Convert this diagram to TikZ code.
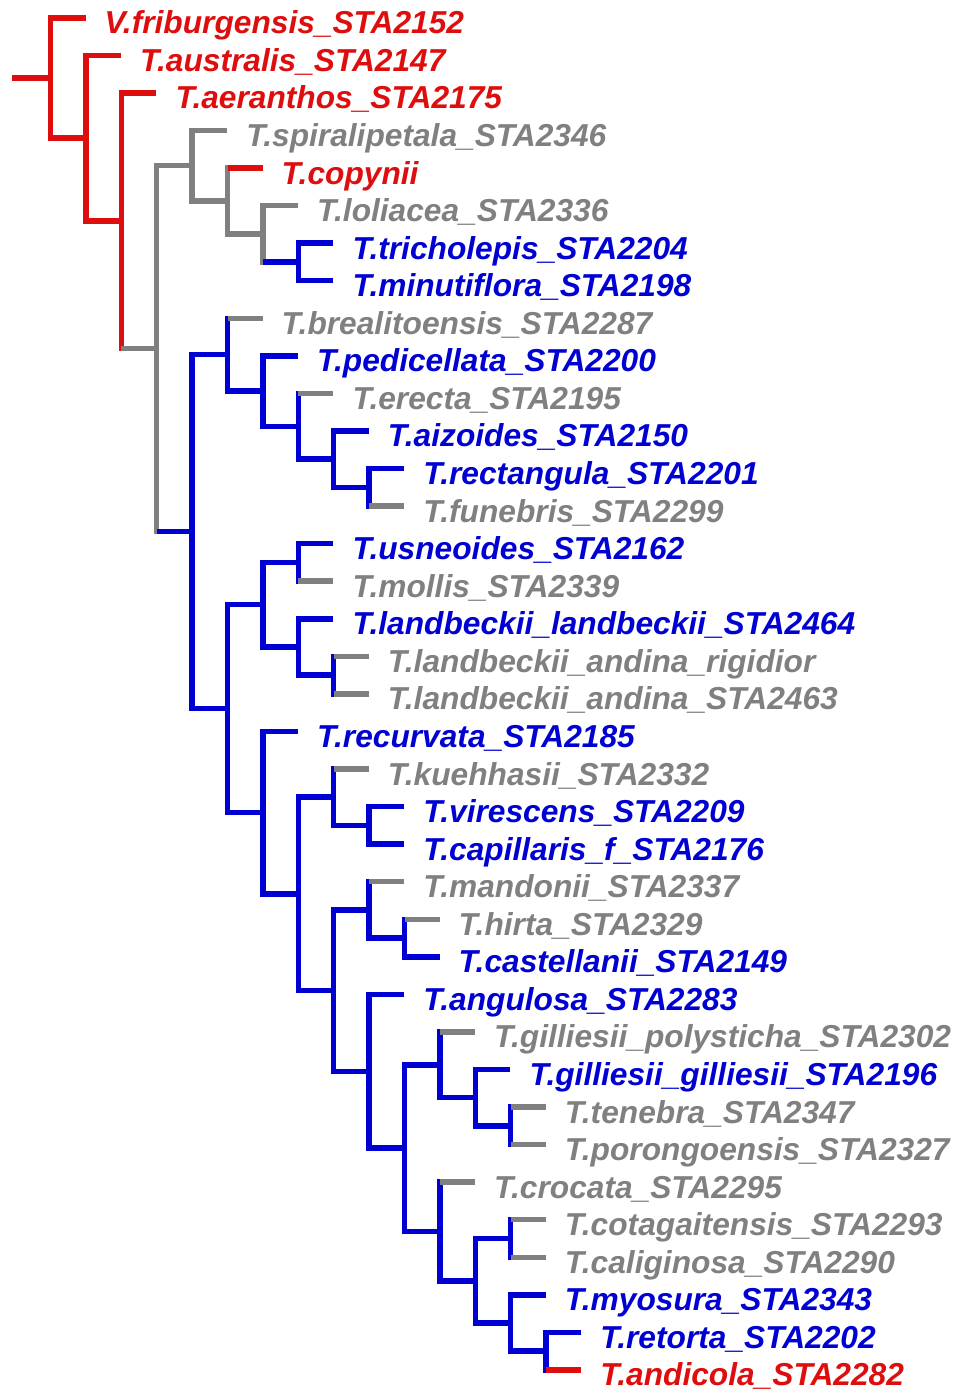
\documentclass[tikz,border=0pt]{standalone}
\usepackage{fontspec}
\setmainfont{Liberation Sans}
\definecolor{tred}{RGB}{222,14,14}
\definecolor{tblue}{RGB}{0,0,210}
\definecolor{tgray}{RGB}{128,128,128}
% vertical bar of a clade: node, colour, first child, last child
\newcommand\cladebar[4]{\draw[vbar,#2] (#1 |- #3) -- (#1 |- #4);}
% horizontal branch from a parent to a child, in the child's colour
\newcommand\branch[3]{\draw[hbar,#3] (#1 |- #2) -- (#2);}
% leaf label placed after the end of its branch
\newcommand\taxon[4]{\node[lab,text=#3] (t#1) at ([xshift=19pt,yshift=-16pt]#2) {#4};}
\begin{document}
\begin{tikzpicture}[x=1pt,y=-1pt,
  hbar/.style={line width=5.5pt},
  vbar/.style={line width=5.5pt,line cap=rect},
  lab/.style={anchor=base west,inner sep=0pt,font=\fontsize{31.7}{31.7}\selectfont\bfseries\itshape}]
\useasboundingbox (0,0) rectangle (954,1390);

% internal nodes
\coordinate (stub) at (12,77.94);
\coordinate (root) at (50.5,77.94);
\coordinate (nA) at (85.9,138.08);
\coordinate (nB) at (121.3,220.8);
\coordinate (nC) at (156.7,348.68);
\coordinate (nD) at (192.1,165.69);
\coordinate (nF) at (227.5,200.905);
\coordinate (nG) at (262.9,233.77);
\coordinate (nH) at (298.3,261.94);
\coordinate (nE) at (192.1,531.67);
\coordinate (nI) at (227.5,354.67);
\coordinate (nK) at (262.9,391.05);
\coordinate (nL) at (298.3,426.265);
\coordinate (nM) at (333.7,459.13);
\coordinate (nN) at (369.1,487.3);
\coordinate (nJ) at (227.5,708.66);
\coordinate (nO) at (262.9,604.675);
\coordinate (nQ) at (298.3,562.42);
\coordinate (nR) at (298.3,646.93);
\coordinate (nS) at (333.7,675.1);
\coordinate (nP) at (262.9,812.65);
\coordinate (nT) at (298.3,893.86);
\coordinate (nU) at (333.7,797.17);
\coordinate (nW) at (369.1,825.34);
\coordinate (nV) at (333.7,990.545);
\coordinate (nX) at (369.1,909.85);
\coordinate (nZ) at (404.5,938.02);
\coordinate (nY) at (369.1,1071.24);
\coordinate (nAA) at (404.5,1148.12);
\coordinate (nAB) at (439.9,1064.785);
\coordinate (nAD) at (475.3,1097.65);
\coordinate (nAE) at (510.7,1125.82);
\coordinate (nAC) at (439.9,1231.4575);
\coordinate (nAF) at (475.3,1280.755);
\coordinate (nAG) at (510.7,1238.5);
\coordinate (nAH) at (510.7,1323.01);
\coordinate (nAI) at (546.1,1351.18);

% branch tips
\coordinate (l0) at (85.5,17.8);
\coordinate (l1) at (120.9,55.36);
\coordinate (l2) at (156.3,92.92);
\coordinate (l3) at (227.1,130.48);
\coordinate (l4) at (262.5,168.04);
\coordinate (l5) at (297.9,205.6);
\coordinate (l6) at (333.3,243.16);
\coordinate (l7) at (333.3,280.72);
\coordinate (l8) at (262.5,318.28);
\coordinate (l9) at (297.9,355.84);
\coordinate (l10) at (333.3,393.4);
\coordinate (l11) at (368.7,430.96);
\coordinate (l12) at (404.1,468.52);
\coordinate (l13) at (404.1,506.08);
\coordinate (l14) at (333.3,543.64);
\coordinate (l15) at (333.3,581.2);
\coordinate (l16) at (333.3,618.76);
\coordinate (l17) at (368.7,656.32);
\coordinate (l18) at (368.7,693.88);
\coordinate (l19) at (297.9,731.44);
\coordinate (l20) at (368.7,769.0);
\coordinate (l21) at (404.1,806.56);
\coordinate (l22) at (404.1,844.12);
\coordinate (l23) at (404.1,881.68);
\coordinate (l24) at (439.5,919.24);
\coordinate (l25) at (439.5,956.8);
\coordinate (l26) at (404.1,994.36);
\coordinate (l27) at (474.9,1031.92);
\coordinate (l28) at (510.3,1069.48);
\coordinate (l29) at (545.7,1107.04);
\coordinate (l30) at (545.7,1144.6);
\coordinate (l31) at (474.9,1182.16);
\coordinate (l32) at (545.7,1219.72);
\coordinate (l33) at (545.7,1257.28);
\coordinate (l34) at (545.7,1294.84);
\coordinate (l35) at (581.1,1332.4);
\coordinate (l36) at (581.1,1369.96);

% vertical bars
\cladebar{root}{tred}{l0}{nA}
\cladebar{nA}{tred}{l1}{nB}
\cladebar{nB}{tred}{l2}{nC}
\cladebar{nC}{tgray}{nD}{nE}
\cladebar{nD}{tgray}{l3}{nF}
\cladebar{nF}{tgray}{l4}{nG}
\cladebar{nG}{tgray}{l5}{nH}
\cladebar{nH}{tblue}{l6}{l7}
\cladebar{nE}{tblue}{nI}{nJ}
\cladebar{nI}{tblue}{l8}{nK}
\cladebar{nK}{tblue}{l9}{nL}
\cladebar{nL}{tblue}{l10}{nM}
\cladebar{nM}{tblue}{l11}{nN}
\cladebar{nN}{tblue}{l12}{l13}
\cladebar{nJ}{tblue}{nO}{nP}
\cladebar{nO}{tblue}{nQ}{nR}
\cladebar{nQ}{tblue}{l14}{l15}
\cladebar{nR}{tblue}{l16}{nS}
\cladebar{nS}{tblue}{l17}{l18}
\cladebar{nP}{tblue}{l19}{nT}
\cladebar{nT}{tblue}{nU}{nV}
\cladebar{nU}{tblue}{l20}{nW}
\cladebar{nW}{tblue}{l21}{l22}
\cladebar{nV}{tblue}{nX}{nY}
\cladebar{nX}{tblue}{l23}{nZ}
\cladebar{nZ}{tblue}{l24}{l25}
\cladebar{nY}{tblue}{l26}{nAA}
\cladebar{nAA}{tblue}{nAB}{nAC}
\cladebar{nAB}{tblue}{l27}{nAD}
\cladebar{nAD}{tblue}{l28}{nAE}
\cladebar{nAE}{tblue}{l29}{l30}
\cladebar{nAC}{tblue}{l31}{nAF}
\cladebar{nAF}{tblue}{nAG}{nAH}
\cladebar{nAG}{tblue}{l32}{l33}
\cladebar{nAH}{tblue}{l34}{nAI}
\cladebar{nAI}{tblue}{l35}{l36}

% horizontal branches
\draw[hbar,tred] (stub) -- (root);
\branch{root}{l0}{tred}
\branch{root}{nA}{tred}
\branch{nA}{l1}{tred}
\branch{nA}{nB}{tred}
\branch{nB}{l2}{tred}
\branch{nB}{nC}{tgray}
\branch{nC}{nD}{tgray}
\branch{nC}{nE}{tblue}
\branch{nD}{l3}{tgray}
\branch{nD}{nF}{tgray}
\branch{nF}{l4}{tred}
\branch{nF}{nG}{tgray}
\branch{nG}{l5}{tgray}
\branch{nG}{nH}{tblue}
\branch{nH}{l6}{tblue}
\branch{nH}{l7}{tblue}
\branch{nE}{nI}{tblue}
\branch{nE}{nJ}{tblue}
\branch{nI}{l8}{tgray}
\branch{nI}{nK}{tblue}
\branch{nK}{l9}{tblue}
\branch{nK}{nL}{tblue}
\branch{nL}{l10}{tgray}
\branch{nL}{nM}{tblue}
\branch{nM}{l11}{tblue}
\branch{nM}{nN}{tblue}
\branch{nN}{l12}{tblue}
\branch{nN}{l13}{tgray}
\branch{nJ}{nO}{tblue}
\branch{nJ}{nP}{tblue}
\branch{nO}{nQ}{tblue}
\branch{nO}{nR}{tblue}
\branch{nQ}{l14}{tblue}
\branch{nQ}{l15}{tgray}
\branch{nR}{l16}{tblue}
\branch{nR}{nS}{tblue}
\branch{nS}{l17}{tgray}
\branch{nS}{l18}{tgray}
\branch{nP}{l19}{tblue}
\branch{nP}{nT}{tblue}
\branch{nT}{nU}{tblue}
\branch{nT}{nV}{tblue}
\branch{nU}{l20}{tgray}
\branch{nU}{nW}{tblue}
\branch{nW}{l21}{tblue}
\branch{nW}{l22}{tblue}
\branch{nV}{nX}{tblue}
\branch{nV}{nY}{tblue}
\branch{nX}{l23}{tgray}
\branch{nX}{nZ}{tblue}
\branch{nZ}{l24}{tgray}
\branch{nZ}{l25}{tblue}
\branch{nY}{l26}{tblue}
\branch{nY}{nAA}{tblue}
\branch{nAA}{nAB}{tblue}
\branch{nAA}{nAC}{tblue}
\branch{nAB}{l27}{tgray}
\branch{nAB}{nAD}{tblue}
\branch{nAD}{l28}{tblue}
\branch{nAD}{nAE}{tblue}
\branch{nAE}{l29}{tgray}
\branch{nAE}{l30}{tgray}
\branch{nAC}{l31}{tgray}
\branch{nAC}{nAF}{tblue}
\branch{nAF}{nAG}{tblue}
\branch{nAF}{nAH}{tblue}
\branch{nAG}{l32}{tgray}
\branch{nAG}{l33}{tgray}
\branch{nAH}{l34}{tblue}
\branch{nAH}{nAI}{tblue}
\branch{nAI}{l35}{tblue}
\branch{nAI}{l36}{tred}

% taxon labels
\taxon{0}{l0}{tred}{V.friburgensis\_STA2152}
\taxon{1}{l1}{tred}{T.australis\_STA2147}
\taxon{2}{l2}{tred}{T.aeranthos\_STA2175}
\taxon{3}{l3}{tgray}{T.spiralipetala\_STA2346}
\taxon{4}{l4}{tred}{T.copynii}
\taxon{5}{l5}{tgray}{T.loliacea\_STA2336}
\taxon{6}{l6}{tblue}{T.tricholepis\_STA2204}
\taxon{7}{l7}{tblue}{T.minutiflora\_STA2198}
\taxon{8}{l8}{tgray}{T.brealitoensis\_STA2287}
\taxon{9}{l9}{tblue}{T.pedicellata\_STA2200}
\taxon{10}{l10}{tgray}{T.erecta\_STA2195}
\taxon{11}{l11}{tblue}{T.aizoides\_STA2150}
\taxon{12}{l12}{tblue}{T.rectangula\_STA2201}
\taxon{13}{l13}{tgray}{T.funebris\_STA2299}
\taxon{14}{l14}{tblue}{T.usneoides\_STA2162}
\taxon{15}{l15}{tgray}{T.mollis\_STA2339}
\taxon{16}{l16}{tblue}{T.landbeckii\_landbeckii\_STA2464}
\taxon{17}{l17}{tgray}{T.landbeckii\_andina\_rigidior}
\taxon{18}{l18}{tgray}{T.landbeckii\_andina\_STA2463}
\taxon{19}{l19}{tblue}{T.recurvata\_STA2185}
\taxon{20}{l20}{tgray}{T.kuehhasii\_STA2332}
\taxon{21}{l21}{tblue}{T.virescens\_STA2209}
\taxon{22}{l22}{tblue}{T.capillaris\_f\_STA2176}
\taxon{23}{l23}{tgray}{T.mandonii\_STA2337}
\taxon{24}{l24}{tgray}{T.hirta\_STA2329}
\taxon{25}{l25}{tblue}{T.castellanii\_STA2149}
\taxon{26}{l26}{tblue}{T.angulosa\_STA2283}
\taxon{27}{l27}{tgray}{T.gilliesii\_polysticha\_STA2302}
\taxon{28}{l28}{tblue}{T.gilliesii\_gilliesii\_STA2196}
\taxon{29}{l29}{tgray}{T.tenebra\_STA2347}
\taxon{30}{l30}{tgray}{T.porongoensis\_STA2327}
\taxon{31}{l31}{tgray}{T.crocata\_STA2295}
\taxon{32}{l32}{tgray}{T.cotagaitensis\_STA2293}
\taxon{33}{l33}{tgray}{T.caliginosa\_STA2290}
\taxon{34}{l34}{tblue}{T.myosura\_STA2343}
\taxon{35}{l35}{tblue}{T.retorta\_STA2202}
\taxon{36}{l36}{tred}{T.andicola\_STA2282}
\end{tikzpicture}
\end{document}
